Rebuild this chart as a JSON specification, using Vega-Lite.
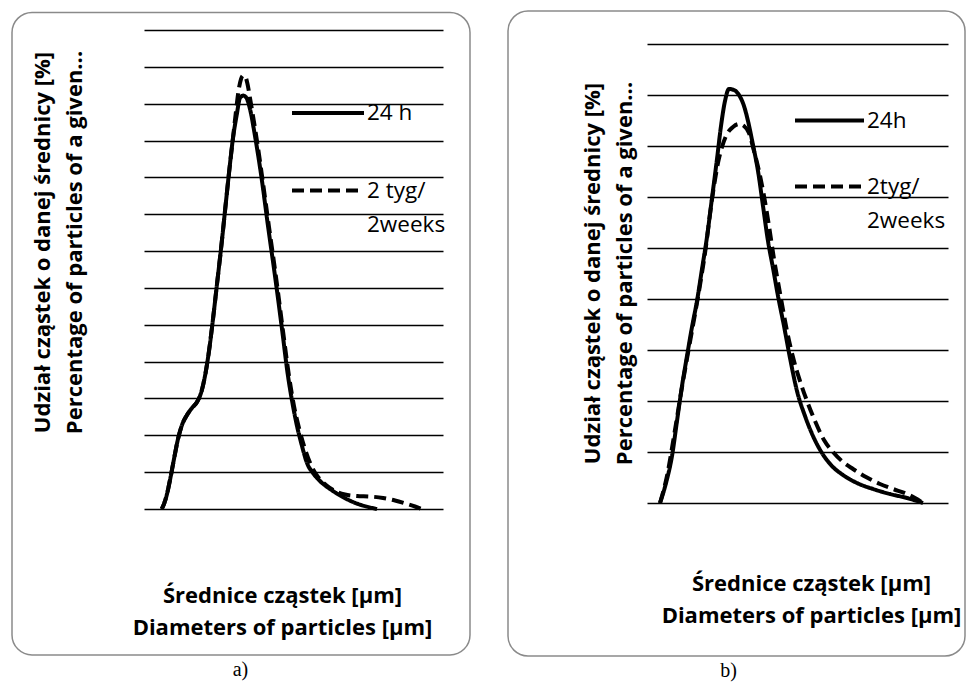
{
  "$schema": "https://vega.github.io/schema/vega-lite/v6.json",
  "background": "white",
  "padding": {"left": 11, "top": 10, "right": 2, "bottom": 2},
  "autosize": {"type": "pad"},
  "bounds": "flush",
  "spacing": 204,
  "config": {
    "view": {"stroke": null},
    "font": "Open Sans",
    "style": {"guide-label": {"lineHeight": 34}},
    "axis": {"domain": false, "ticks": false, "labels": false, "titleFont": "Open Sans", "titleFontSize": 22, "titleFontWeight": "bold", "titleColor": "black", "titleLineHeight": 32, "titlePadding": 0},
    "legend": {"symbolType": "stroke", "symbolStrokeWidth": 4, "symbolStrokeColor": "black", "labelFont": "Open Sans", "labelFontSize": 22.5, "labelColor": "black", "labelOffset": 1, "labelBaseline": "middle", "padding": 0, "labelLimit": 300, "title": null},
    "title": {"font": "Liberation Serif", "fontSize": 20, "fontWeight": "normal", "color": "black", "orient": "bottom"}
  },
  "resolve": {"scale": {"strokeDash": "independent", "x": "independent", "y": "independent"}, "legend": {"strokeDash": "independent"}},
  "hconcat": [
    {
      "width": 299,
      "height": 479,
      "title": {"text": "a)", "dx": -53, "offset": 4},
      "layer": [
        {
          "data": {"values": [{}]},
          "mark": {"type": "rect", "fill": null, "stroke": "#8a8a8a", "strokeWidth": 1.5, "cornerRadius": 20},
          "encoding": {
            "x": {"datum": -132, "type": "quantitative", "scale": {"domain": [0, 299], "nice": false, "zero": false},
                  "axis": {"title": ["Średnice cząstek [µm]", "Diameters of particles [µm]"], "grid": false, "titleX": 138, "titleY": 93, "titleBaseline": "alphabetic"}},
            "x2": {"datum": 326},
            "y": {"datum": -3.96, "type": "quantitative", "scale": {"domain": [0, 13], "nice": false, "zero": false},
                  "axis": {"values": [0, 1, 2, 3, 4, 5, 6, 7, 8, 9, 10, 11, 12, 13], "grid": true, "gridColor": "black", "gridWidth": 1.5, "gridOpacity": 1,
                           "title": ["Udział cząstek o danej średnicy [%]", "Percentage of particles of a given..."], "titleX": -112, "titleY": 212, "titleBaseline": "top", "titleAngle": -90}},
            "y2": {"datum": 13.475}
          }
        },
        {
          "data": {"values": [
            {"s": "24 h", "d": 17.7, "p": 0}, {"s": "24 h", "d": 20, "p": 0.136}, {"s": "24 h", "d": 23, "p": 0.407}, {"s": "24 h", "d": 26, "p": 0.787}, {"s": "24 h", "d": 30, "p": 1.357}, {"s": "24 h", "d": 34, "p": 1.9}, {"s": "24 h", "d": 38, "p": 2.28}, {"s": "24 h", "d": 43, "p": 2.551}, {"s": "24 h", "d": 48, "p": 2.741}, {"s": "24 h", "d": 53, "p": 2.904}, {"s": "24 h", "d": 57, "p": 3.148}, {"s": "24 h", "d": 61, "p": 3.61}, {"s": "24 h", "d": 65, "p": 4.288}, {"s": "24 h", "d": 69, "p": 5.157}, {"s": "24 h", "d": 73, "p": 6.107}, {"s": "24 h", "d": 77, "p": 7.056}, {"s": "24 h", "d": 81, "p": 8.088}, {"s": "24 h", "d": 85, "p": 9.119}, {"s": "24 h", "d": 89, "p": 10.069}, {"s": "24 h", "d": 92.7, "p": 10.693}, {"s": "24 h", "d": 96, "p": 11.155}, {"s": "24 h", "d": 99.3, "p": 11.22}, {"s": "24 h", "d": 102.5, "p": 11.155}, {"s": "24 h", "d": 106, "p": 10.856}, {"s": "24 h", "d": 111, "p": 10.123}, {"s": "24 h", "d": 118, "p": 8.902}, {"s": "24 h", "d": 124, "p": 7.681}, {"s": "24 h", "d": 131, "p": 6.324}, {"s": "24 h", "d": 138, "p": 4.885}, {"s": "24 h", "d": 144, "p": 3.61}, {"s": "24 h", "d": 149, "p": 2.795}, {"s": "24 h", "d": 153, "p": 2.253}, {"s": "24 h", "d": 158, "p": 1.71}, {"s": "24 h", "d": 163, "p": 1.248}, {"s": "24 h", "d": 169, "p": 0.977}, {"s": "24 h", "d": 176, "p": 0.76}, {"s": "24 h", "d": 189, "p": 0.489}, {"s": "24 h", "d": 209, "p": 0.19}, {"s": "24 h", "d": 233, "p": 0},
            {"s": "2 tyg/|2weeks", "d": 17.7, "p": 0}, {"s": "2 tyg/|2weeks", "d": 20, "p": 0.136}, {"s": "2 tyg/|2weeks", "d": 23, "p": 0.407}, {"s": "2 tyg/|2weeks", "d": 26, "p": 0.787}, {"s": "2 tyg/|2weeks", "d": 30, "p": 1.357}, {"s": "2 tyg/|2weeks", "d": 34, "p": 1.9}, {"s": "2 tyg/|2weeks", "d": 38, "p": 2.28}, {"s": "2 tyg/|2weeks", "d": 43, "p": 2.551}, {"s": "2 tyg/|2weeks", "d": 48, "p": 2.741}, {"s": "2 tyg/|2weeks", "d": 53, "p": 2.904}, {"s": "2 tyg/|2weeks", "d": 57, "p": 3.148}, {"s": "2 tyg/|2weeks", "d": 61, "p": 3.61}, {"s": "2 tyg/|2weeks", "d": 65, "p": 4.288}, {"s": "2 tyg/|2weeks", "d": 69, "p": 5.157}, {"s": "2 tyg/|2weeks", "d": 73, "p": 6.107}, {"s": "2 tyg/|2weeks", "d": 77, "p": 7.056}, {"s": "2 tyg/|2weeks", "d": 81, "p": 8.088}, {"s": "2 tyg/|2weeks", "d": 85, "p": 9.119}, {"s": "2 tyg/|2weeks", "d": 89, "p": 10.069}, {"s": "2 tyg/|2weeks", "d": 92, "p": 10.8}, {"s": "2 tyg/|2weeks", "d": 94.5, "p": 11.345}, {"s": "2 tyg/|2weeks", "d": 97, "p": 11.67}, {"s": "2 tyg/|2weeks", "d": 99.3, "p": 11.765}, {"s": "2 tyg/|2weeks", "d": 101.5, "p": 11.725}, {"s": "2 tyg/|2weeks", "d": 103.5, "p": 11.535}, {"s": "2 tyg/|2weeks", "d": 106, "p": 11.155}, {"s": "2 tyg/|2weeks", "d": 109, "p": 10.666}, {"s": "2 tyg/|2weeks", "d": 113, "p": 9.988}, {"s": "2 tyg/|2weeks", "d": 119, "p": 8.848}, {"s": "2 tyg/|2weeks", "d": 125, "p": 7.653}, {"s": "2 tyg/|2weeks", "d": 132, "p": 6.297}, {"s": "2 tyg/|2weeks", "d": 139, "p": 4.831}, {"s": "2 tyg/|2weeks", "d": 145, "p": 3.61}, {"s": "2 tyg/|2weeks", "d": 150, "p": 2.795}, {"s": "2 tyg/|2weeks", "d": 155, "p": 2.198}, {"s": "2 tyg/|2weeks", "d": 161, "p": 1.628}, {"s": "2 tyg/|2weeks", "d": 167, "p": 1.194}, {"s": "2 tyg/|2weeks", "d": 174, "p": 0.868}, {"s": "2 tyg/|2weeks", "d": 182, "p": 0.651}, {"s": "2 tyg/|2weeks", "d": 191, "p": 0.489}, {"s": "2 tyg/|2weeks", "d": 201, "p": 0.394}, {"s": "2 tyg/|2weeks", "d": 213, "p": 0.353}, {"s": "2 tyg/|2weeks", "d": 226, "p": 0.339}, {"s": "2 tyg/|2weeks", "d": 239, "p": 0.299}, {"s": "2 tyg/|2weeks", "d": 251, "p": 0.231}, {"s": "2 tyg/|2weeks", "d": 263, "p": 0.136}, {"s": "2 tyg/|2weeks", "d": 271, "p": 0.068}, {"s": "2 tyg/|2weeks", "d": 278, "p": 0}
          ]},
          "mark": {"type": "line", "interpolate": "monotone", "strokeWidth": 4, "color": "black"},
          "encoding": {
            "x": {"field": "d", "type": "quantitative", "scale": {"domain": [0, 299], "nice": false, "zero": false},
                  "axis": {"title": ["Średnice cząstek [µm]", "Diameters of particles [µm]"], "grid": false, "titleX": 138, "titleY": 93, "titleBaseline": "alphabetic"}},
            "y": {"field": "p", "type": "quantitative", "scale": {"domain": [0, 13], "nice": false, "zero": false},
                  "axis": {"values": [0, 1, 2, 3, 4, 5, 6, 7, 8, 9, 10, 11, 12, 13], "grid": true, "gridColor": "black", "gridWidth": 1.5, "gridOpacity": 1,
                           "title": ["Udział cząstek o danej średnicy [%]", "Percentage of particles of a given..."], "titleX": -112, "titleY": 212, "titleBaseline": "top", "titleAngle": -90}},
            "strokeDash": {"field": "s", "type": "nominal", "scale": {"domain": ["24 h", "2 tyg/|2weeks"], "range": [[1, 0], [12, 6]]},
                           "legend": {"orient": "none", "legendX": 146, "legendY": 45, "symbolSize": 5184, "rowPadding": 27.5, "labelExpr": "split(datum.label, '|')"}}
          }
        }
      ]
    },
    {
      "width": 301,
      "height": 479,
      "title": {"text": "b)", "dx": -69, "offset": 4},
      "layer": [
        {
          "data": {"values": [{}]},
          "mark": {"type": "rect", "fill": null, "stroke": "#8a8a8a", "strokeWidth": 1.5, "cornerRadius": 20},
          "encoding": {
            "x": {"datum": -139, "type": "quantitative", "scale": {"domain": [0, 301], "nice": false, "zero": false},
                  "axis": {"title": ["Średnice cząstek [µm]", "Diameters of particles [µm]"], "grid": false, "titleX": 164, "titleY": 81, "titleBaseline": "alphabetic"}},
            "x2": {"datum": 318},
            "y": {"datum": -3.0, "type": "quantitative", "scale": {"domain": [-0.1176, 9.2745], "nice": false, "zero": false},
                  "axis": {"values": [0, 1, 2, 3, 4, 5, 6, 7, 8, 9], "grid": true, "gridColor": "black", "gridWidth": 1.5, "gridOpacity": 1,
                           "title": ["Udział cząstek o danej średnicy [%]", "Percentage of particles of a given..."], "titleX": -65, "titleY": 243, "titleBaseline": "top", "titleAngle": -90}},
            "y2": {"datum": 9.647}
          }
        },
        {
          "data": {"values": [
            {"s": "24h", "d": 13, "p": 0}, {"s": "24h", "d": 19, "p": 0.392}, {"s": "24h", "d": 25, "p": 0.922}, {"s": "24h", "d": 30, "p": 1.608}, {"s": "24h", "d": 35, "p": 2.294}, {"s": "24h", "d": 40, "p": 2.882}, {"s": "24h", "d": 45, "p": 3.451}, {"s": "24h", "d": 50, "p": 3.961}, {"s": "24h", "d": 55, "p": 4.588}, {"s": "24h", "d": 60, "p": 5.216}, {"s": "24h", "d": 65, "p": 5.98}, {"s": "24h", "d": 70, "p": 6.745}, {"s": "24h", "d": 74, "p": 7.392}, {"s": "24h", "d": 78, "p": 7.882}, {"s": "24h", "d": 82, "p": 8.118}, {"s": "24h", "d": 87, "p": 8.098}, {"s": "24h", "d": 92, "p": 8.0}, {"s": "24h", "d": 97, "p": 7.784}, {"s": "24h", "d": 101, "p": 7.49}, {"s": "24h", "d": 106, "p": 7.02}, {"s": "24h", "d": 111, "p": 6.51}, {"s": "24h", "d": 116, "p": 5.824}, {"s": "24h", "d": 121, "p": 5.137}, {"s": "24h", "d": 126, "p": 4.608}, {"s": "24h", "d": 131, "p": 4.059}, {"s": "24h", "d": 137, "p": 3.471}, {"s": "24h", "d": 143, "p": 2.843}, {"s": "24h", "d": 150, "p": 2.196}, {"s": "24h", "d": 158, "p": 1.706}, {"s": "24h", "d": 166, "p": 1.314}, {"s": "24h", "d": 175, "p": 0.98}, {"s": "24h", "d": 185, "p": 0.725}, {"s": "24h", "d": 196, "p": 0.549}, {"s": "24h", "d": 210, "p": 0.392}, {"s": "24h", "d": 226, "p": 0.275}, {"s": "24h", "d": 243, "p": 0.176}, {"s": "24h", "d": 260, "p": 0.098}, {"s": "24h", "d": 276, "p": 0},
            {"s": "2tyg/|2weeks", "d": 13, "p": 0}, {"s": "2tyg/|2weeks", "d": 20, "p": 0.529}, {"s": "2tyg/|2weeks", "d": 27, "p": 1.314}, {"s": "2tyg/|2weeks", "d": 34, "p": 2.157}, {"s": "2tyg/|2weeks", "d": 41, "p": 2.941}, {"s": "2tyg/|2weeks", "d": 48, "p": 3.706}, {"s": "2tyg/|2weeks", "d": 54, "p": 4.392}, {"s": "2tyg/|2weeks", "d": 59, "p": 5.039}, {"s": "2tyg/|2weeks", "d": 63, "p": 5.667}, {"s": "2tyg/|2weeks", "d": 67, "p": 6.216}, {"s": "2tyg/|2weeks", "d": 71, "p": 6.667}, {"s": "2tyg/|2weeks", "d": 75, "p": 6.98}, {"s": "2tyg/|2weeks", "d": 80, "p": 7.235}, {"s": "2tyg/|2weeks", "d": 86, "p": 7.373}, {"s": "2tyg/|2weeks", "d": 92, "p": 7.431}, {"s": "2tyg/|2weeks", "d": 97, "p": 7.392}, {"s": "2tyg/|2weeks", "d": 102, "p": 7.255}, {"s": "2tyg/|2weeks", "d": 107, "p": 6.902}, {"s": "2tyg/|2weeks", "d": 112, "p": 6.51}, {"s": "2tyg/|2weeks", "d": 117, "p": 6.02}, {"s": "2tyg/|2weeks", "d": 122, "p": 5.431}, {"s": "2tyg/|2weeks", "d": 127, "p": 4.784}, {"s": "2tyg/|2weeks", "d": 133, "p": 4.118}, {"s": "2tyg/|2weeks", "d": 140, "p": 3.373}, {"s": "2tyg/|2weeks", "d": 147, "p": 2.784}, {"s": "2tyg/|2weeks", "d": 153, "p": 2.392}, {"s": "2tyg/|2weeks", "d": 160, "p": 2.0}, {"s": "2tyg/|2weeks", "d": 168, "p": 1.608}, {"s": "2tyg/|2weeks", "d": 177, "p": 1.235}, {"s": "2tyg/|2weeks", "d": 186, "p": 1.0}, {"s": "2tyg/|2weeks", "d": 196, "p": 0.804}, {"s": "2tyg/|2weeks", "d": 206, "p": 0.667}, {"s": "2tyg/|2weeks", "d": 219, "p": 0.51}, {"s": "2tyg/|2weeks", "d": 233, "p": 0.373}, {"s": "2tyg/|2weeks", "d": 246, "p": 0.275}, {"s": "2tyg/|2weeks", "d": 260, "p": 0.176}, {"s": "2tyg/|2weeks", "d": 268, "p": 0.098}, {"s": "2tyg/|2weeks", "d": 276, "p": 0}
          ]},
          "mark": {"type": "line", "interpolate": "monotone", "strokeWidth": 4, "color": "black"},
          "encoding": {
            "x": {"field": "d", "type": "quantitative", "scale": {"domain": [0, 301], "nice": false, "zero": false},
                  "axis": {"title": ["Średnice cząstek [µm]", "Diameters of particles [µm]"], "grid": false, "titleX": 164, "titleY": 81, "titleBaseline": "alphabetic"}},
            "y": {"field": "p", "type": "quantitative", "scale": {"domain": [-0.1176, 9.2745], "nice": false, "zero": false},
                  "axis": {"values": [0, 1, 2, 3, 4, 5, 6, 7, 8, 9], "grid": true, "gridColor": "black", "gridWidth": 1.5, "gridOpacity": 1,
                           "title": ["Udział cząstek o danej średnicy [%]", "Percentage of particles of a given..."], "titleX": -65, "titleY": 243, "titleBaseline": "top", "titleAngle": -90}},
            "strokeDash": {"field": "s", "type": "nominal", "scale": {"domain": ["24h", "2tyg/|2weeks"], "range": [[1, 0], [12, 6]]},
                           "legend": {"orient": "none", "legendX": 146, "legendY": 54, "symbolSize": 4761, "rowPadding": 18, "labelExpr": "split(datum.label, '|')"}}
          }
        }
      ]
    }
  ]
}
